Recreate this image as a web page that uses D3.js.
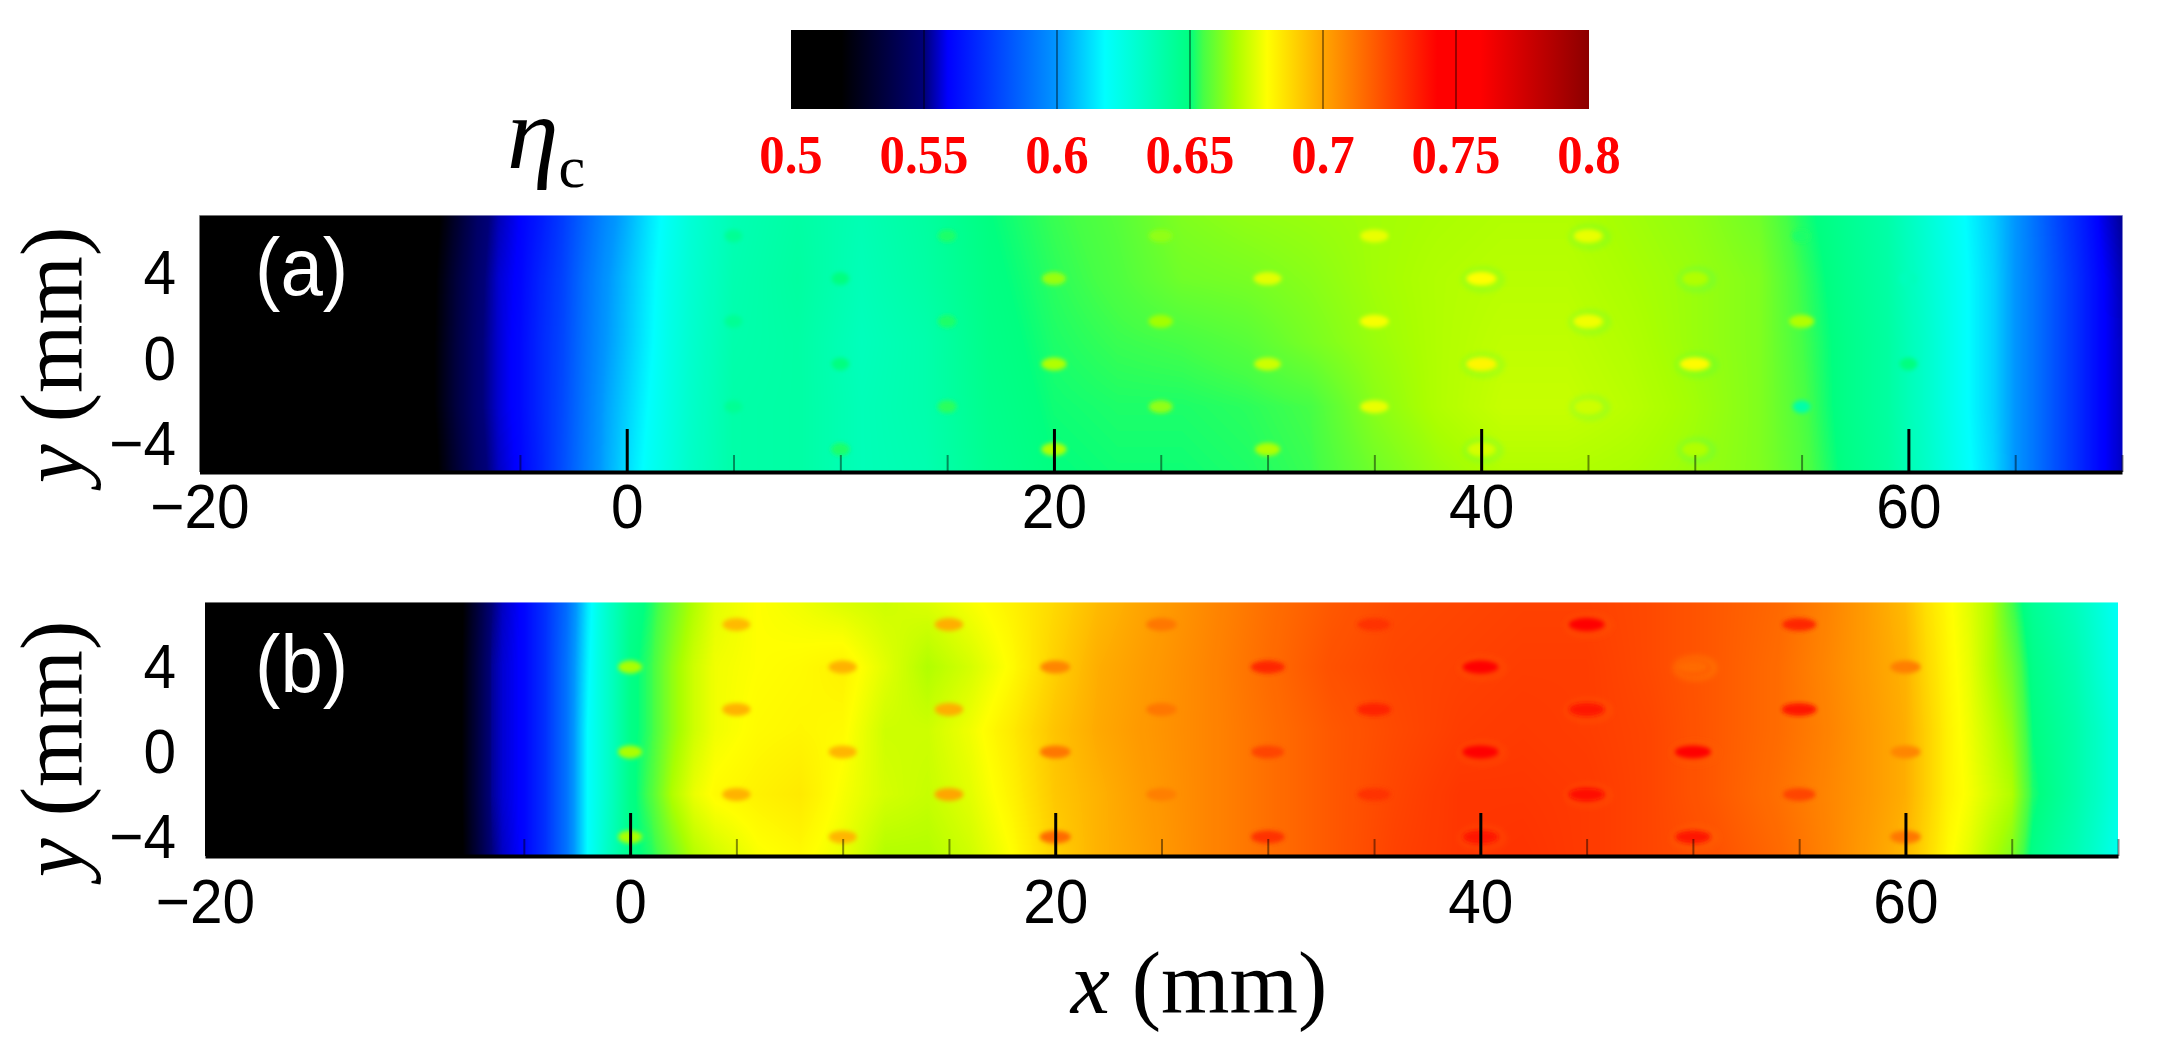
<!DOCTYPE html>
<html>
<head>
  <meta charset="utf-8">
  <title>Cooling effectiveness</title>
  <script src="https://d3js.org/d3.v7.min.js"></script>
  <style>
    body { margin: 0; background: #fff; }
    svg { display: block; }
  </style>
</head>
<body>
<div id="chart"></div>
<script>
// colour bar
var barTicks = [0.5, 0.55, 0.6, 0.65, 0.7, 0.75, 0.8];
var barLabels = ["0.5", "0.55", "0.6", "0.65", "0.7", "0.75", "0.8"];
var cmapStops = [0.5, 0.519, 0.55, 0.559, 0.6, 0.618, 0.65, 0.655, 0.667, 0.679, 0.7, 0.743, 0.759, 0.8];
var cmapColors = ["#000000", "#000000", "#000078", "#0000ff", "#0096ff", "#00ffff", "#00ff80", "#46ff46", "#aaff00", "#ffff00", "#ffa500", "#ff0000", "#ff0000", "#8c0000"];

// axes
var xMajor = [-20, 0, 20, 40, 60];
var xMinor = [-15, -10, -5, 5, 10, 15, 25, 30, 35, 45, 50, 55, 65, 70];
var yTicks = [4, 0, -4];

// field rows (y, mm) shared by both panels
var fieldY = [7, 4, 1, -2, -5];

// panel (a): eta along each row
var colsA = [-20,-10,-9,-8,-7,-6,-5,-4,-3,-2,-1,0,1,2,3,5,8,11,14,17,20,23,26,29,32,35,38,41,44,47,50,53,55,57,59,61,62.5,64,65,66,67,68,69,70];
var etaA_p7 = [.50,.505,.515,.53,.545,.554,.559,.566,.575,.586,.596,.604,.613,.621,.628,.637,.641,.637,.642,.65,.654,.657,.662,.664,.665,.666,.667,.668,.668,.666,.664,.66,.652,.646,.64,.628,.619,.609,.60,.589,.578,.568,.558,.552];
var etaA_p4 = [.50,.508,.518,.534,.547,.556,.56,.569,.577,.589,.599,.607,.615,.623,.629,.638,.642,.636,.641,.649,.653,.656,.66,.661,.663,.666,.668,.669,.669,.667,.665,.662,.654,.647,.641,.629,.62,.61,.60,.59,.58,.57,.56,.554];
var etaA_p1 = [.50,.51,.519,.535,.548,.556,.561,.57,.578,.59,.60,.608,.616,.624,.63,.639,.641,.635,.639,.648,.652,.654,.655,.657,.661,.665,.668,.67,.67,.668,.665,.662,.655,.648,.642,.63,.62,.61,.60,.59,.58,.57,.56,.555];
var etaA_m2 = [.50,.51,.519,.535,.548,.556,.561,.57,.579,.591,.602,.61,.618,.625,.631,.64,.641,.636,.639,.647,.651,.652,.652,.653,.655,.663,.668,.671,.671,.669,.666,.662,.656,.648,.642,.63,.62,.61,.60,.59,.58,.57,.56,.555];
var etaA_m5 = [.50,.505,.516,.532,.546,.555,.56,.569,.58,.592,.603,.612,.62,.626,.632,.64,.641,.636,.638,.646,.65,.651,.651,.652,.654,.66,.665,.668,.668,.667,.665,.662,.657,.649,.643,.631,.621,.611,.60,.59,.58,.57,.56,.555];

// panel (b)
var colsB = [-20,-9,-8,-7,-6.5,-6,-5,-4,-3,-2,-1.5,-1,0,1,2,3,4,6,8,10,12,14,16,18,20,22,24,27,30,33,36,39,42,45,48,51,54,56,58,60,61,62,63,64,65,66,67,68,69,70];
var etaB_p7 = [.5,.505,.516,.538,.55,.555,.56,.572,.588,.614,.624,.632,.646,.652,.66,.668,.675,.679,.677,.674,.672,.674,.678,.682,.688,.695,.70,.707,.714,.72,.724,.725,.726,.726,.724,.72,.716,.71,.703,.695,.686,.68,.675,.668,.655,.645,.64,.635,.628,.62];
var etaB_p4 = [.5,.505,.517,.54,.552,.556,.56,.572,.59,.616,.625,.632,.648,.654,.664,.672,.677,.679,.68,.682,.675,.668,.673,.68,.69,.698,.702,.708,.715,.722,.725,.726,.727,.727,.724,.72,.715,.709,.703,.697,.688,.681,.676,.668,.66,.648,.643,.638,.63,.622];
var etaB_p1 = [.5,.505,.517,.54,.552,.556,.56,.572,.59,.618,.625,.632,.648,.654,.664,.672,.677,.68,.681,.68,.672,.672,.677,.684,.693,.699,.703,.708,.714,.72,.724,.727,.728,.727,.725,.72,.715,.71,.704,.698,.69,.682,.677,.671,.664,.65,.645,.64,.633,.625];
var etaB_m2 = [.5,.505,.517,.54,.552,.556,.56,.572,.59,.618,.625,.632,.648,.656,.668,.676,.68,.682,.684,.678,.673,.671,.675,.682,.692,.697,.702,.708,.714,.72,.725,.729,.729,.728,.725,.72,.714,.709,.704,.698,.69,.682,.678,.673,.668,.652,.646,.64,.633,.625];
var etaB_m5 = [.5,.505,.516,.538,.55,.555,.56,.572,.59,.618,.626,.634,.648,.652,.66,.668,.672,.678,.68,.676,.668,.668,.672,.679,.69,.697,.701,.708,.714,.72,.726,.729,.73,.728,.725,.722,.716,.71,.703,.696,.688,.68,.675,.668,.662,.648,.642,.637,.63,.622];

// film holes, null where nothing shows in the picture
var holeX_odd = [5, 15, 25, 35, 45, 55];
var holeX_even = [0, 10, 20, 30, 40, 50, 60];
var holeRows = [6, 4, 2, 0, -2, -4];
var holeA_p6 = [.645, .652, .664, .676, .676, .652];
var holeA_p4 = [null, .65, .665, .675, .679, .668, .635];
var holeA_p2 = [.645, .652, .666, .678, .677, .668];
var holeA_p0 = [null, .65, .668, .672, .681, .68, .65];
var holeA_m2 = [.645, .653, .664, .676, .672, .64];
var holeA_m4 = [null, .652, .668, .668, .673, .668, null];
var holeB_p6 = [.695, .698, .712, .73, .743, .733];
var holeB_p4 = [.667, .697, .708, .733, .743, .715, .71];
var holeB_p2 = [.697, .698, .712, .734, .738, .738];
var holeB_p0 = [.667, .696, .712, .725, .743, .746, .708];
var holeB_m2 = [.697, .70, .71, .73, .741, .725];
var holeB_m4 = [.667, .696, .715, .73, .738, .738, .712];

var width = 2161, height = 1060;
var serif = "'Liberation Serif', serif";
var sans = "'Liberation Sans', sans-serif";
var squeeze = 0.93;

var svg = d3.select("#chart").append("svg")
  .attr("width", width)
  .attr("height", height);

var defs = svg.append("defs");
defs.append("filter").attr("id", "soft")
  .attr("x", "-30%").attr("y", "-30%").attr("width", "160%").attr("height", "160%")
  .append("feGaussianBlur").attr("stdDeviation", 2);
defs.append("filter").attr("id", "softer")
  .attr("x", "-30%").attr("y", "-30%").attr("width", "160%").attr("height", "160%")
  .append("feGaussianBlur").attr("stdDeviation", 3);

var cmap = d3.scaleLinear().domain(cmapStops).range(cmapColors).clamp(true);

// lookup table so the pixel loop does not parse a colour per pixel
var lut = d3.range(1201).map(function (i) { return d3.rgb(cmap(0.5 + i * 0.3 / 1200)); });
function lutColor(v) {
  var i = Math.max(0, Math.min(1200, Math.round((v - 0.5) / 0.3 * 1200)));
  return lut[i];
}

function drawPanel(p) {
  var x = d3.scaleLinear().domain([-20, 70]).range(p.xRange);
  var y = d3.scaleLinear().domain(p.yDomain).range(p.yRange);
  var holeSize = d3.scaleLinear().domain(p.holeEta).range(p.holeRx).clamp(true);
  var x0 = p.xRange[0], y0 = p.yRange[1];
  var w = Math.round(p.xRange[1] - x0), h = Math.round(p.yRange[0] - y0);

  // paint the field in value space, then through the colour map
  var canvas = document.createElement("canvas");
  canvas.width = w;
  canvas.height = h;
  var ctx = canvas.getContext("2d");
  var img = ctx.createImageData(w, h);
  var rowScales = p.rows.map(function (r) {
    return d3.scaleLinear().domain(p.cols).range(r).clamp(true);
  });
  for (var i = 0; i < w; i++) {
    var mm = x.invert(x0 + i + 0.5);
    var col = d3.scaleLinear().domain(fieldY).range(rowScales.map(function (s) { return s(mm); })).clamp(true);
    for (var j = 0; j < h; j++) {
      var c = lutColor(col(y.invert(y0 + j + 0.5)));
      var k = (j * w + i) * 4;
      img.data[k] = c.r;
      img.data[k + 1] = c.g;
      img.data[k + 2] = c.b;
      img.data[k + 3] = 255;
    }
  }
  ctx.putImageData(img, 0, 0);

  var g = svg.append("g");
  g.append("image")
    .attr("x", x0).attr("y", y0)
    .attr("width", w).attr("height", h)
    .attr("href", canvas.toDataURL());

  // holes
  var holes = [];
  holeRows.forEach(function (ry, r) {
    var xs = r % 2 === 0 ? holeX_odd : holeX_even;
    xs.forEach(function (hx, n) {
      if (p.holes[r][n] !== null) holes.push({ x: hx, y: ry, eta: p.holes[r][n] });
    });
  });
  // the downstream holes have a faint cooler ring round them
  g.append("g").attr("filter", "url(#softer)").selectAll("ellipse")
    .data(holes.filter(function (d) { return d.x >= 40 && d.x < 55; }))
    .enter().append("ellipse")
    .attr("cx", function (d) { return x(d.x) + 2; })
    .attr("cy", function (d) { return y(d.y) + 1; })
    .attr("rx", function (d) { return holeSize(d.eta) + 4; })
    .attr("ry", 10)
    .attr("fill", "none")
    .attr("stroke-width", 3)
    .attr("stroke-opacity", 0.3)
    .attr("stroke", function (d) { return cmap(d.eta - 0.03); });
  g.append("g").attr("filter", "url(#soft)").selectAll("ellipse")
    .data(holes)
    .enter().append("ellipse")
    .attr("cx", function (d) { return x(d.x); })
    .attr("cy", function (d) { return y(d.y); })
    .attr("rx", function (d) { return holeSize(d.eta); })
    .attr("ry", 6.5)
    .attr("fill", function (d) { return cmap(d.eta); });

  // top edge of the image is slightly soft
  g.append("line")
    .attr("x1", x0).attr("x2", x0 + w)
    .attr("y1", y0).attr("y2", y0)
    .attr("stroke", "#fff").attr("stroke-opacity", 0.45).attr("stroke-width", 2);

  // axes sit on the image with ticks pointing inward
  var minor = g.append("g")
    .attr("transform", "translate(0," + p.yRange[0] + ")")
    .call(d3.axisBottom(x).tickValues(xMinor).tickSize(-17).tickFormat(""));
  minor.select(".domain").remove();
  minor.selectAll("line").attr("stroke", "#000").attr("stroke-opacity", 0.45).attr("stroke-width", 2);

  var major = g.append("g")
    .attr("transform", "translate(0," + p.yRange[0] + ")")
    .call(d3.axisBottom(x).tickValues(xMajor).tickSizeInner(-43).tickSizeOuter(0).tickFormat(d3.format("d")));
  major.select(".domain").attr("stroke", "#000").attr("stroke-width", 4);
  major.selectAll("line")
    .attr("stroke", "#000").attr("stroke-width", 3)
    .attr("display", function (d) { return d === -20 ? "none" : null; });
  major.selectAll("text")
    .attr("y", p.xLabelGap).attr("dy", 0)
    .attr("transform", "scale(" + squeeze + ",1)")
    .attr("font-family", sans).attr("font-size", 63).attr("fill", "#000");

  var yAxis = g.append("g")
    .attr("transform", "translate(" + x0 + "," + p.yLabelShift + ")")
    .call(d3.axisLeft(y).tickValues(yTicks).tickSize(0).tickFormat(d3.format("d")));
  yAxis.select(".domain").remove();
  yAxis.selectAll("text")
    .attr("x", (176 - x0) / squeeze)
    .attr("transform", "scale(" + squeeze + ",1)")
    .attr("font-family", sans).attr("font-size", 63).attr("fill", "#000");

  // panel letter
  g.append("text")
    .attr("transform", "translate(255," + p.letterY + ") scale(" + squeeze + ",1)")
    .attr("font-family", sans).attr("font-size", 82).attr("fill", "#fff")
    .text(p.letter);

  // y title
  var yt = g.append("text")
    .attr("transform", "translate(82," + p.yTitleY + ") rotate(-90)")
    .attr("text-anchor", "middle")
    .attr("font-family", serif).attr("font-size", 88).attr("fill", "#000");
  yt.append("tspan").attr("font-style", "italic").text("y");
  yt.append("tspan").text(" (mm)");
}

drawPanel({
  cols: colsA,
  rows: [etaA_p7, etaA_p4, etaA_p1, etaA_m2, etaA_m5],
  holes: [holeA_p6, holeA_p4, holeA_p2, holeA_p0, holeA_m2, holeA_m4],
  xRange: [199.5, 2122],
  yDomain: [-5.06, 6.98],
  yRange: [472, 215],
  holeEta: [0.65, 0.68],
  holeRx: [9, 15],
  xLabelGap: 56,
  yLabelShift: -5,
  letter: "(a)",
  letterY: 295,
  yTitleY: 355
});

drawPanel({
  cols: colsB,
  rows: [etaB_p7, etaB_p4, etaB_p1, etaB_m2, etaB_m5],
  holes: [holeB_p6, holeB_p4, holeB_p2, holeB_p0, holeB_m2, holeB_m4],
  xRange: [205, 2118],
  yDomain: [-4.9, 7.06],
  yRange: [856, 602],
  holeEta: [0.67, 0.745],
  holeRx: [12, 18],
  xLabelGap: 67,
  yLabelShift: 0,
  letter: "(b)",
  letterY: 692,
  yTitleY: 749
});

// x title
var xt = svg.append("text")
  .attr("x", 1199).attr("y", 1013)
  .attr("text-anchor", "middle")
  .attr("font-family", serif).attr("font-size", 88).attr("fill", "#000");
xt.append("tspan").attr("font-style", "italic").text("x");
xt.append("tspan").text(" (mm)");

// colour bar
var barX = d3.scaleLinear().domain([0.5, 0.8]).range([791, 1589]);
var grad = defs.append("linearGradient").attr("id", "jetbar")
  .attr("x1", "0%").attr("x2", "100%").attr("y1", "0%").attr("y2", "0%");
grad.selectAll("stop")
  .data(cmapStops)
  .enter().append("stop")
  .attr("offset", function (d) { return (d - 0.5) / 0.3 * 100 + "%"; })
  .attr("stop-color", function (d) { return cmap(d); });

svg.append("rect")
  .attr("x", barX(0.5)).attr("y", 30)
  .attr("width", barX(0.8) - barX(0.5)).attr("height", 79)
  .attr("fill", "url(#jetbar)");

svg.append("g").selectAll("line")
  .data(barTicks.slice(1, -1))
  .enter().append("line")
  .attr("x1", barX).attr("x2", barX)
  .attr("y1", 30).attr("y2", 109)
  .attr("stroke", "#000").attr("stroke-opacity", 0.4).attr("stroke-width", 2);

svg.append("g").selectAll("text")
  .data(barTicks)
  .enter().append("text")
  .attr("transform", function (d) { return "translate(" + barX(d) + ",173) scale(0.94,1)"; })
  .attr("text-anchor", "middle")
  .attr("font-family", serif).attr("font-size", 54).attr("font-weight", "bold").attr("fill", "#ff0000")
  .text(function (d, i) { return barLabels[i]; });

// eta_c
var eta = svg.append("text").attr("x", 507).attr("y", 168)
  .attr("font-family", serif).attr("font-size", 104).attr("fill", "#000");
eta.append("tspan").attr("font-style", "italic").text("η");
eta.append("tspan").attr("font-size", 60).attr("dy", 19).text("c");
</script>
</body>
</html>
